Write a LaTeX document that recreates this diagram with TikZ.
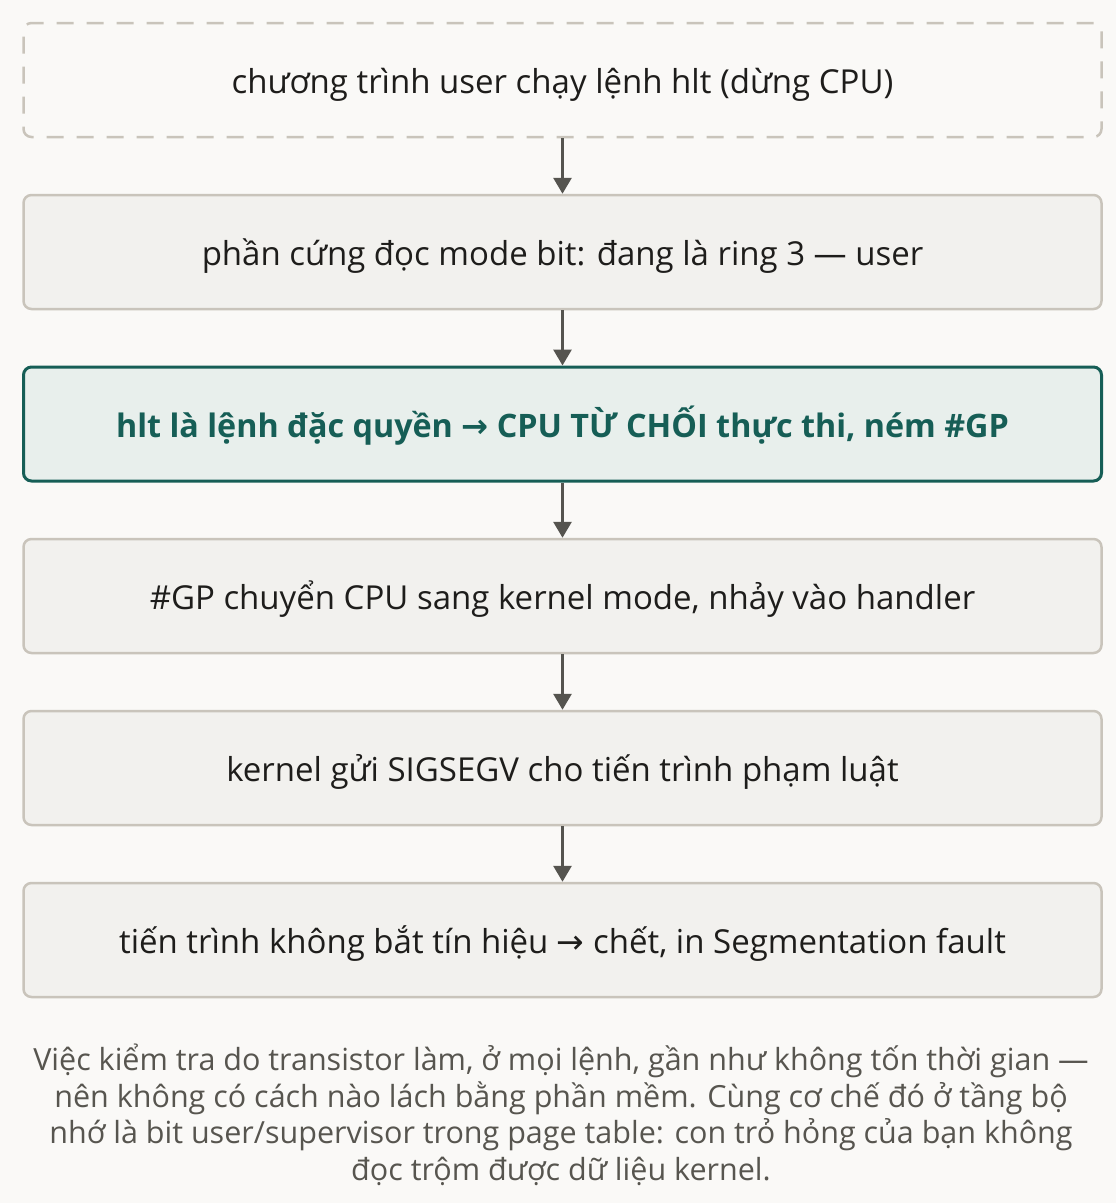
\documentclass[tikz,border=0pt]{standalone}
\usepackage{fontspec}
\setmainfont{Open Sans}
\newfontfamily\symfont{DejaVu Sans}
\usetikzlibrary{arrows.meta}
\usepackage{xcolor}
\definecolor{bg}{HTML}{FAF9F7}
\definecolor{bx}{HTML}{F2F1EE}
\definecolor{bd}{HTML}{C9C4BB}
\definecolor{tl}{HTML}{165E56}
\definecolor{tlf}{HTML}{E8EFEC}
\definecolor{ar}{HTML}{55544F}
\definecolor{tx}{HTML}{1E1D1B}
\definecolor{cp}{HTML}{57554F}
\newcommand{\toarrow}{{\symfont →}}
\tikzset{
    stepbox/.style={draw=bd, line width=2.5pt, fill=bx, rounded corners=8pt,
        minimum width=1078pt, minimum height=114pt, inner sep=0pt,
        text height=30pt, text depth=4pt,
        text=tx, font=\fontsize{33}{40}\selectfont},
    startbox/.style={stepbox, fill=bg, dash pattern=on 17pt off 13pt},
    hotbox/.style={stepbox, draw=tl, fill=tlf, line width=3pt, text=tl,
        font=\fontsize{32.3}{40}\selectfont\bfseries},
    flow/.style={draw=ar, line width=3pt, -{Triangle[width=18pt,length=16pt]}}
}

\begin{document}
\begin{tikzpicture}[x=1pt, y=-1pt]
    \fill[bg] (0,0) rectangle (1116,1203);
    \useasboundingbox (0,0) rectangle (1116,1203);
    \node[startbox] (user) at (562.5,80) {chương trình user chạy lệnh hlt (dừng CPU)};
    \node[stepbox] (mode) at (562.5,252) {phần cứng đọc mode bit: đang là ring 3 — user};
    \node[hotbox] (priv) at (562.5,424) {hlt là lệnh đặc quyền \toarrow\ CPU TỪ CHỐI thực thi, ném \#GP};
    \node[stepbox] (trap) at (562.5,596) {\#GP chuyển CPU sang kernel mode, nhảy vào handler};
    \node[stepbox] (sig) at (562.5,768) {kernel gửi SIGSEGV cho tiến trình phạm luật};
    \node[stepbox] (die) at (562.5,940) {tiến trình không bắt tín hiệu \toarrow\ chết, in Segmentation fault};
    % arrows
    \draw[flow] (user) -- (mode);
    \draw[flow] (mode) -- (priv);
    \draw[flow] (priv) -- (trap);
    \draw[flow] (trap) -- (sig);
    \draw[flow] (sig) -- (die);
    \node[align=center, text=cp, font=\fontsize{30.5}{36.5}\selectfont] (note) at (561,1115)
        {Việc kiểm tra do transistor làm, ở mọi lệnh, gần như không tốn thời gian —\\
         nên không có cách nào lách bằng phần mềm. Cùng cơ chế đó ở tầng bộ\\
         nhớ là bit user/supervisor trong page table: con trỏ hỏng của bạn không\\
         đọc trộm được dữ liệu kernel.};
\end{tikzpicture}
\end{document}
